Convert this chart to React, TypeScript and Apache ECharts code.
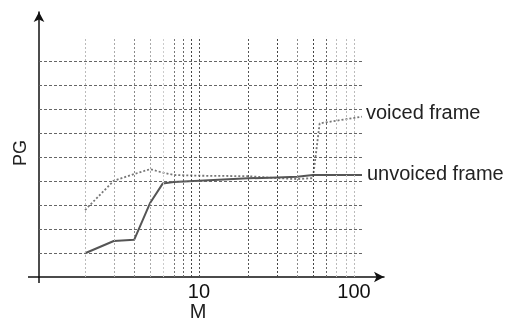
import React, { useEffect, useRef } from "react";
import * as echarts from "echarts";

// ---- data ----
const X_LABELS = [10, 100];
const V_GRID_M = [2, 3, 4, 5, 6, 7, 8, 9, 10, 20, 30, 40, 50, 60, 70, 80, 90];
const H_GRID_PG = [1, 2, 3, 4, 5, 6, 7, 8, 9];
const VOICED_M = [2, 3, 4, 5, 6, 7, 10, 20, 30, 40, 50, 55, 100];
const VOICED_PG = [2.79, 4.01, 4.29, 4.49, 4.35, 4.25, 4.22, 4.2, 4.12, 4.08, 4.12, 6.4, 6.68];
const UNVOICED_M = [2, 3, 4, 5, 6, 7, 10, 20, 30, 40, 50, 100];
const UNVOICED_PG = [0.99, 1.5, 1.55, 3.07, 3.9, 3.96, 4.01, 4.11, 4.15, 4.18, 4.25, 4.25];
const SERIES_NAMES = ["voiced frame", "unvoiced frame"];

// ---- styles ----
const V_GRID_SHADE = ["#bbb", "#aaa", "#888", "#aaa", "#ccc", "#777", "#666", "#444", "#555", "#555", "#444", "#888", "#444", "#666", "#bbb", "#bbb", "#bbb"];
const X_MIN = 1.043;
const X_MAX = 136.5;
const Y_MAX = 11.04;
const GRID_TOP_PG = 10;

export default function App() {
  const ref = useRef<HTMLDivElement>(null);
  useEffect(() => {
    const chart = echarts.init(ref.current!, null, { renderer: "svg" });
    const vLines = V_GRID_M.map((m, i) => [
      { coord: [m, 0], lineStyle: { color: V_GRID_SHADE[i], type: [2, 2], width: 1 } },
      { coord: [m, GRID_TOP_PG] },
    ]);
    const hLines = H_GRID_PG.map((y) => [
      { coord: [X_MIN, y], lineStyle: { color: "#666", type: [3, 2], width: 1 } },
      { coord: [100, y] },
    ]);
    const font = "'Liberation Sans', Arial, Helvetica, sans-serif";
    chart.setOption({
      animation: false,
      grid: { left: 39, right: 129, top: 12, bottom: 43 },
      xAxis: {
        type: "log",
        logBase: 10,
        min: X_MIN,
        max: X_MAX,
        axisLine: { lineStyle: { color: "#111", width: 1.5 }, symbol: ["none", "arrow"], symbolSize: [8, 10] },
        axisTick: { show: false },
        splitLine: { show: false },
        minorSplitLine: { show: false },
        axisLabel: {
          margin: 6,
          color: "#111",
          fontSize: 20,
          lineHeight: 15,
          fontFamily: font,
          showMinLabel: false,
          showMaxLabel: false,
          formatter: (v: number) => {
            if (Math.abs(v - X_LABELS[0]) < 1e-6) return String(X_LABELS[0]);
            if (Math.abs(v - X_LABELS[1]) < 1e-6) return "{r|" + X_LABELS[1] + "}";
            return "";
          },
          rich: { r: { fontSize: 20, lineHeight: 15, fontFamily: font, color: "#111", padding: [0, 16, 0, 0] } },
        },
      },
      yAxis: {
        type: "value",
        min: 0,
        max: Y_MAX,
        axisLine: { show: true, lineStyle: { color: "#111", width: 1.5 }, symbol: ["none", "arrow"], symbolSize: [8, 10] },
        axisTick: { show: false },
        axisLabel: { show: false },
        splitLine: { show: false },
      },
      series: [
        {
          type: "line",
          silent: true,
          data: [],
          markLine: {
            silent: true,
            symbol: "none",
            label: { show: false },
            animation: false,
            data: [...vLines, ...hLines],
          },
        },
        {
          name: SERIES_NAMES[0],
          type: "line",
          showSymbol: false,
          data: VOICED_M.map((m, i) => [m, VOICED_PG[i]]),
          lineStyle: { color: "#777", width: 1.8, type: [2, 2] },
          z: 3,
        },
        {
          name: SERIES_NAMES[1],
          type: "line",
          showSymbol: false,
          data: UNVOICED_M.map((m, i) => [m, UNVOICED_PG[i]]),
          lineStyle: { color: "#555", width: 2 },
          z: 4,
        },
      ],
      graphic: [
        { type: "line", shape: { x1: 28, y1: 277, x2: 39, y2: 277 }, style: { stroke: "#111", lineWidth: 1.5 } },
        { type: "line", shape: { x1: 39, y1: 277, x2: 39, y2: 283 }, style: { stroke: "#111", lineWidth: 1.5 } },
        { type: "text", x: 366, y: 112, style: { text: SERIES_NAMES[0], fontSize: 20, fontFamily: font, fill: "#222", verticalAlign: "middle", align: "left" } },
        { type: "text", x: 367, y: 172.5, style: { text: SERIES_NAMES[1], fontSize: 20, fontFamily: font, fill: "#222", verticalAlign: "middle", align: "left" } },
        { type: "text", x: 198, y: 310.5, style: { text: "M", fontSize: 20, lineHeight: 15, fontFamily: font, fill: "#222", verticalAlign: "middle", align: "center" } },
        { type: "text", x: 20, y: 153, rotation: Math.PI / 2, style: { text: "PG", fontSize: 18, fontFamily: font, fill: "#222", verticalAlign: "middle", align: "center" } },
      ],
    });
    return () => chart.dispose();
  }, []);
  return <div ref={ref} style={{ position: "fixed", left: 0, top: 0, width: 513, height: 320 }} />;
}
